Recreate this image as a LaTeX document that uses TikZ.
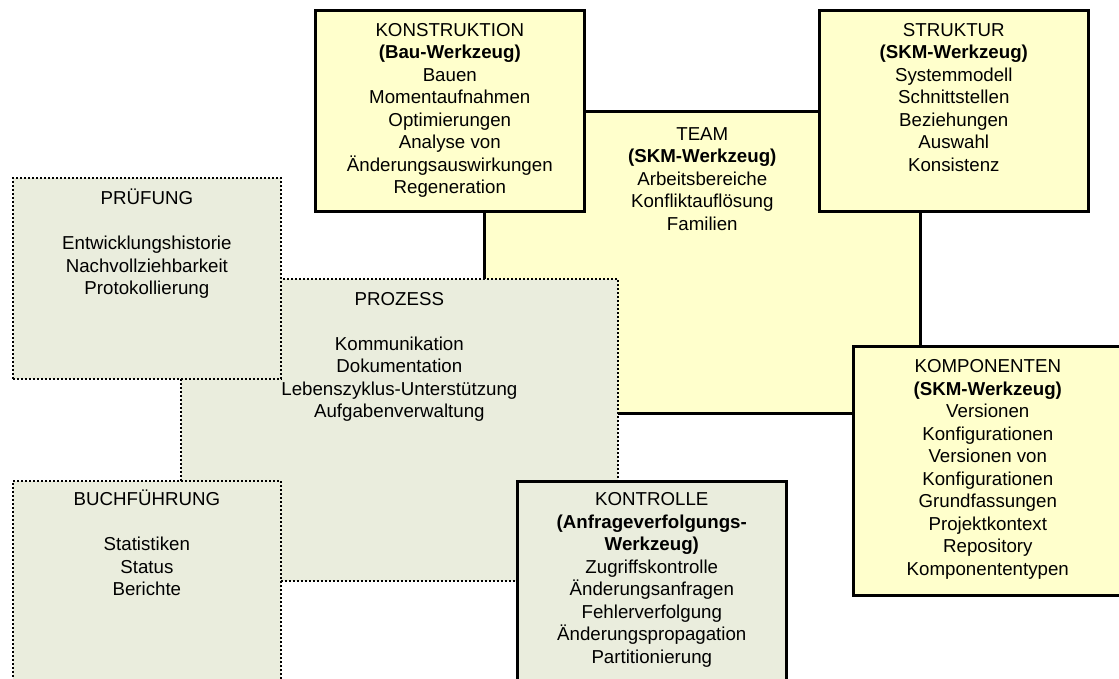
\documentclass[tikz,border=0pt]{standalone}
\usepackage{fontspec}
\setmainfont{Liberation Sans}
\definecolor{toolfill}{RGB}{255,255,204}
\definecolor{procfill}{RGB}{234,237,221}
\begin{document}
\begin{tikzpicture}[x=1pt,y=-1pt,
  toolbox/.style={draw=black, line width=2.6pt, fill=toolfill, inner sep=0pt, anchor=north west},
  procbox/.style={draw=black, line width=1.7pt, dash pattern=on 1.9pt off 2.1pt, fill=procfill, inner sep=0pt, anchor=north west},
  boxtext/.style={align=center, anchor=north, inner sep=0pt, font=\fontsize{18.7}{22.5}\selectfont}
]
\useasboundingbox (0,0) rectangle (1119,679);
\clip (0,0) rectangle (1119,679);

% tool areas (solid frames)
\node[toolbox, minimum width=436pt, minimum height=302pt] (team) at (483,110) {};
\node[boxtext] (teamtxt) at ([yshift=-14.5pt]team.north) {\strut TEAM\\\textbf{(SKM-Werkzeug)}\\Arbeitsbereiche\\Konfliktauflösung\\Familien};

\node[toolbox, minimum width=269pt, minimum height=201pt] (konstruktion) at (314,9) {};
\node[boxtext] (konstruktiontxt) at ([yshift=-11.5pt]konstruktion.north) {\strut KONSTRUKTION\\\textbf{(Bau-Werkzeug)}\\Bauen\\Momentaufnahmen\\Optimierungen\\Analyse von\\Änderungsauswirkungen\\Regeneration};

\node[toolbox, minimum width=269pt, minimum height=201pt] (struktur) at (818,9) {};
\node[boxtext] (strukturtxt) at ([yshift=-11.5pt]struktur.north) {\strut STRUKTUR\\\textbf{(SKM-Werkzeug)}\\Systemmodell\\Schnittstellen\\Beziehungen\\Auswahl\\Konsistenz};

\node[toolbox, minimum width=269pt, minimum height=249pt] (komponenten) at (852,345) {};
\node[boxtext] (komponententxt) at ([yshift=-12pt]komponenten.north) {\strut KOMPONENTEN\\\textbf{(SKM-Werkzeug)}\\Versionen\\Konfigurationen\\Versionen von\\Konfigurationen\\Grundfassungen\\Projektkontext\\Repository\\Komponententypen};

% process areas (dotted frames)
\node[procbox, minimum width=437pt, minimum height=302pt] (prozess) at (180,278) {};
\node[boxtext] (prozesstxt) at ([yshift=-11.5pt]prozess.north) {\strut PROZESS\\[22.5pt]Kommunikation\\Dokumentation\\Lebenszyklus-Unterstützung\\Aufgabenverwaltung};

\node[procbox, minimum width=268pt, minimum height=201pt] (pruefung) at (12,177) {};
\node[boxtext] (pruefungtxt) at ([yshift=-12pt]pruefung.north) {\strut PRÜFUNG\\[22.5pt]Entwicklungshistorie\\Nachvollziehbarkeit\\Protokollierung};

\node[procbox, minimum width=268pt, minimum height=210pt] (buchfuehrung) at (12,480) {};
\node[boxtext] (buchfuehrungtxt) at ([yshift=-10pt]buchfuehrung.north) {\strut BUCHFÜHRUNG\\[22.5pt]Statistiken\\Status\\Berichte};

% tracking tool (solid frame, process colour)
\node[toolbox, fill=procfill, minimum width=269pt, minimum height=210pt] (kontrolle) at (516,480) {};
\node[boxtext] (kontrolletxt) at ([yshift=-10pt]kontrolle.north) {\strut KONTROLLE\\\textbf{(Anfrageverfolgungs-}\\\textbf{Werkzeug)}\\Zugriffskontrolle\\Änderungsanfragen\\Fehlerverfolgung\\Änderungspropagation\\Partitionierung};
\end{tikzpicture}
\end{document}
